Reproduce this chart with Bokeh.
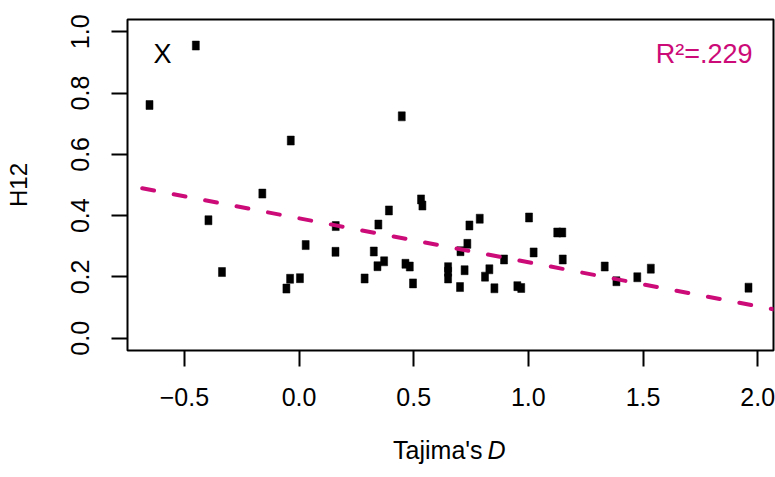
import numpy as np
from bokeh.plotting import figure
from bokeh.layouts import column
from bokeh.models import Range1d, FixedTicker, Label, Slope, ColumnDataSource
from bokeh.embed import file_html
from bokeh.resources import INLINE

tajima_d = [-0.652, -0.450, -0.395, -0.336, -0.160, -0.055, -0.039, -0.036,
            0.004, 0.029, 0.160, 0.159, 0.286, 0.326, 0.346, 0.342, 0.371, 0.392,
            0.448, 0.464, 0.483, 0.497, 0.532, 0.538,
            0.650, 0.650, 0.650, 0.702, 0.704, 0.734, 0.743, 0.788, 0.722, 0.811,
            0.830, 0.852, 0.894, 0.952, 0.969,
            1.003, 1.023, 1.126, 1.148, 1.150, 1.333, 1.384, 1.475, 1.534, 1.960]
h12 = [0.761, 0.955, 0.385, 0.216, 0.472, 0.162, 0.194, 0.645,
       0.196, 0.304, 0.366, 0.282, 0.195, 0.283, 0.371, 0.235, 0.251, 0.417,
       0.724, 0.243, 0.234, 0.179, 0.453, 0.433,
       0.232, 0.217, 0.195, 0.167, 0.284, 0.308, 0.368, 0.390, 0.222, 0.201,
       0.225, 0.163, 0.257, 0.170, 0.164,
       0.394, 0.280, 0.345, 0.345, 0.257, 0.234, 0.186, 0.199, 0.227, 0.165]
x_ticks = [-0.5, 0.0, 0.5, 1.0, 1.5, 2.0]
x_tick_labels = ["\u22120.5", "0.0", "0.5", "1.0", "1.5", "2.0"]
y_ticks = [0.0, 0.2, 0.4, 0.6, 0.8, 1.0]
y_tick_labels = ["0.0", "0.2", "0.4", "0.6", "0.8", "1.0"]
x_title = "Tajima's"
x_title_italic = "D"
y_title = "H12"
r2_text = "R\u00b2=.229"
panel_text = "X"

FONT = "Liberation Sans"
FS = "25px"
MAG = "#CC0A78"

FW, FH = 646, 331
p = figure(frame_width=FW, frame_height=FH, output_backend="svg", toolbar_location=None,
           x_range=Range1d(-0.748, 2.069), y_range=Range1d(-0.04, 1.04),
           min_border_left=127, min_border_right=2, min_border_top=19,
           min_border_bottom=80)
p.grid.visible = False
p.background_fill_color = "white"
p.border_fill_color = "white"
p.outline_line_color = "black"
p.outline_line_width = 2

for ax in (p.xaxis[0], p.yaxis[0]):
    ax.axis_line_color = None
    ax.major_tick_line_color = "black"
    ax.major_tick_line_width = 2
    ax.major_tick_out = 16
    ax.major_tick_in = 0
    ax.minor_tick_line_color = None
    ax.major_label_text_font = FONT
    ax.major_label_text_font_size = FS
    ax.major_label_text_color = "black"
    ax.axis_label_text_font = FONT
    ax.axis_label_text_font_size = "24px"
    ax.axis_label_text_font_style = "normal"
    ax.axis_label_text_color = "black"

p.xaxis[0].ticker = FixedTicker(ticks=x_ticks)
p.xaxis[0].major_label_overrides = dict(zip(x_ticks, x_tick_labels))
p.yaxis[0].ticker = FixedTicker(ticks=y_ticks)
p.yaxis[0].major_label_overrides = dict(zip(y_ticks, y_tick_labels))
p.yaxis[0].major_label_orientation = "vertical"
p.xaxis[0].major_label_standoff = 21
p.yaxis[0].major_label_standoff = 22
p.yaxis[0].axis_label = y_title
p.yaxis[0].axis_label_standoff = 37

src = ColumnDataSource(dict(x=tajima_d, y=h12))
p.rect(x="x", y="y", width=7, height=9, width_units="screen", height_units="screen",
       source=src, fill_color="black", line_color="black", line_width=0.5)

slope, intercept = np.polyfit(np.array(tajima_d), np.array(h12), 1)
p.add_layout(Slope(gradient=float(slope), y_intercept=float(intercept),
                   line_color=MAG, line_width=4, line_dash="12 20", line_cap="round"))

# annotations (screen units are relative to the plot frame, y upward)
p.add_layout(Label(x=35, y=FH - 34, x_units="screen", y_units="screen",
                   text=panel_text, text_font=FONT, text_font_size="27px",
                   text_align="center", text_baseline="middle", text_color="black"))
p.add_layout(Label(x=625, y=FH - 34, x_units="screen", y_units="screen",
                   text=r2_text, text_font=FONT, text_font_size="27px",
                   text_align="right", text_baseline="middle", text_color=MAG))

# strip below holding the x-axis title (normal "Tajima's" + italic "D")
p2 = figure(width=775, height=47, output_backend="svg", toolbar_location=None,
            x_range=Range1d(0, 775), y_range=Range1d(0, 47),
            x_axis_location=None, y_axis_location=None, min_border=0)
p2.grid.visible = False
p2.outline_line_color = None
p2.background_fill_color = "white"
p2.border_fill_color = "white"
p2.add_layout(Label(x=426, y=28, text=x_title, text_font=FONT, text_font_size="25px",
                    text_align="right", text_baseline="middle", text_color="black"))
p2.add_layout(Label(x=432, y=28, text=x_title_italic, text_font=FONT, text_font_size="25px",
                    text_font_style="italic",
                    text_align="left", text_baseline="middle", text_color="black"))

layout = column(p, p2, spacing=0)
open("out.html", "w").write(file_html(layout, INLINE))
